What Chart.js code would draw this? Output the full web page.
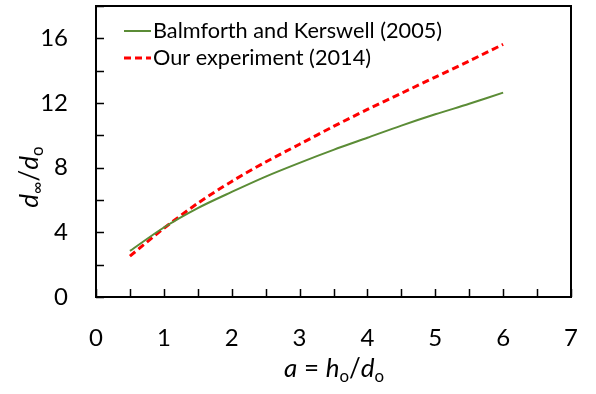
<!DOCTYPE html>
<html><head><meta charset="utf-8">
<style>html,body{margin:0;padding:0;background:#fff}canvas{display:block}</style>
<script src="https://cdn.jsdelivr.net/npm/chart.js@4"></script>
</head><body>
<canvas id="c" width="596" height="394"></canvas>
<script>
const xValues = [0.5, 1, 1.5, 2, 2.5, 3, 3.5, 4, 4.5, 5, 5.5, 6];
const balmforth = [2.85, 4.3, 5.5, 6.5, 7.45, 8.3, 9.1, 9.85, 10.6, 11.3, 11.95, 12.64];
const experiment = [2.53, 4.25, 5.8, 7.15, 8.35, 9.45, 10.55, 11.6, 12.6, 13.6, 14.6, 15.63];
const seriesNames = ['Balmforth and Kerswell (2005)', 'Our experiment (2014)'];
const xRange = [0, 7];
const yRange = [0, 18];

const GREEN = '#5b8c36';
const RED = '#ff0000';
const FONT = 'Lato, "Liberation Sans", sans-serif';

function pts(ys) { return xValues.map((x, i) => ({ x: x, y: ys[i] })); }

const SUB = 0.65;
function drawRich(ctx, parts, x, y, size) {
  let cx = x;
  for (const p of parts) {
    const fs = p[2] ? size * SUB : size;
    ctx.font = (p[1] ? 'italic ' : '') + fs + 'px ' + FONT;
    ctx.fillText(p[0], cx, y + (p[2] ? size * 0.2 : 0));
    cx += ctx.measureText(p[0]).width;
  }
  return cx - x;
}
function richWidth(ctx, parts, size) {
  let w = 0;
  for (const p of parts) {
    const fs = p[2] ? size * SUB : size;
    ctx.font = (p[1] ? 'italic ' : '') + fs + 'px ' + FONT;
    w += ctx.measureText(p[0]).width;
  }
  return w;
}

const decor = {
  id: 'decor',
  afterDraw(chart) {
    const ctx = chart.ctx, a = chart.chartArea;
    const xs = chart.scales.x, ys = chart.scales.y;
    ctx.save();
    ctx.strokeStyle = '#000';
    ctx.lineWidth = 2;
    ctx.strokeRect(a.left, a.top, a.right - a.left, a.bottom - a.top);
    ctx.lineWidth = 1.5;
    ctx.beginPath();
    xs.ticks.forEach(t => {
      const px = Math.round(xs.getPixelForValue(t.value)) + 0.5;
      ctx.moveTo(px, a.bottom); ctx.lineTo(px, a.bottom - 8);
    });
    ys.ticks.forEach(t => {
      const py = Math.round(ys.getPixelForValue(t.value)) + 0.5;
      ctx.moveTo(a.left, py); ctx.lineTo(a.left + 8, py);
    });
    ctx.stroke();

    // legend
    ctx.textBaseline = 'middle';
    ctx.textAlign = 'left';
    ctx.fillStyle = '#000';
    const lx = 124, lw = 27;
    const rows = [
      { y: 31, color: GREEN, dash: [], w: 2 },
      { y: 58, color: RED, dash: [7, 4], w: 3 }
    ];
    rows.forEach((r, i) => {
      ctx.beginPath();
      ctx.strokeStyle = r.color; ctx.lineWidth = r.w; ctx.setLineDash(r.dash);
      ctx.moveTo(lx, r.y); ctx.lineTo(lx + lw, r.y); ctx.stroke();
      ctx.setLineDash([]);
      ctx.font = '21.7px ' + FONT;
      ctx.fillText(seriesNames[i], 153, r.y);
    });

    // x title
    ctx.textBaseline = 'alphabetic';
    const xt = [['a', true, false], [' = ', false, false], ['h', true, false], ['o', false, true], ['/', false, false], ['d', true, false], ['o', false, true]];
    const size = 26;
    drawRich(ctx, xt, 284, 377, size);

    // y title
    const yt = [['d', true, false], ['\u221E', false, true], ['/', false, false], ['d', true, false], ['o', false, true]];
    const wy = richWidth(ctx, yt, size);
    ctx.translate(38, 177);
    ctx.rotate(-Math.PI / 2);
    drawRich(ctx, yt, -wy / 2, 0, size);
    ctx.restore();
  }
};

function zeroPad(s) { s.paddingTop = 0; s.paddingBottom = 0; s.paddingLeft = 0; s.paddingRight = 0; }

new Chart(document.getElementById('c'), {
  type: 'line',
  data: {
    datasets: [
      { label: seriesNames[0], data: pts(balmforth), borderColor: GREEN, borderWidth: 2, pointRadius: 0, tension: 0.3, fill: false },
      { label: seriesNames[1], data: pts(experiment), borderColor: RED, borderWidth: 3, borderDash: [7, 4], pointRadius: 0, tension: 0.3, fill: false }
    ]
  },
  options: {
    responsive: false,
    animation: false,
    devicePixelRatio: 1,
    layout: { padding: { top: 6, right: 25, left: 0, bottom: 0 } },
    plugins: { legend: { display: false }, tooltip: { enabled: false } },
    scales: {
      x: {
        type: 'linear', min: xRange[0], max: xRange[1],
        afterFit: s => { s.height = 97; zeroPad(s); },
        grid: { display: false, drawTicks: false },
        border: { display: false },
        ticks: { stepSize: 0.5, padding: 27, color: '#000', font: { family: FONT, size: 24 },
          callback: v => (Number.isInteger(v) ? String(v) : ''), autoSkip: false, maxRotation: 0 }
      },
      y: {
        type: 'linear', min: yRange[0], max: yRange[1],
        afterFit: s => { s.width = 96; zeroPad(s); },
        grid: { display: false, drawTicks: false },
        border: { display: false },
        ticks: { stepSize: 2, padding: 28, color: '#000', font: { family: FONT, size: 24 },
          callback: v => (v % 4 === 0 && v <= 16 ? String(v) : ''), autoSkip: false }
      }
    }
  },
  plugins: [decor]
});
</script>
</body></html>
